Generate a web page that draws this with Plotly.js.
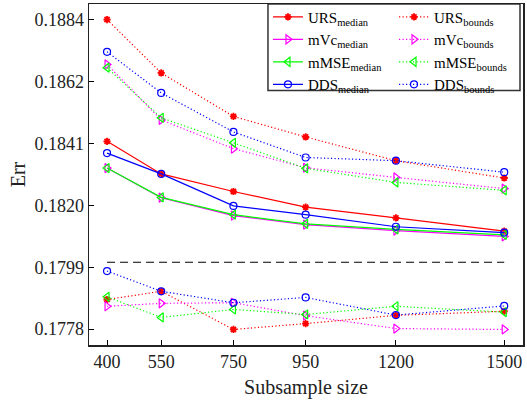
<!DOCTYPE html>
<html>
<head>
<meta charset="utf-8">
<script src="https://cdn.plot.ly/plotly-3.0.1.min.js"></script>
<style>html,body{margin:0;padding:0;background:#fff;}#chart{width:527px;height:400px;}</style>
</head>
<body>
<div id="chart"></div>
<script>
// Data
var subsampleSize = [400, 550, 750, 950, 1200, 1500];

var ursMedian  = [0.18420, 0.18309, 0.18249, 0.18196, 0.18159, 0.18114];
var ursUpper   = [0.18835, 0.18653, 0.18505, 0.18435, 0.18354, 0.18295];
var ursLower   = [0.17881, 0.17909, 0.17779, 0.17799, 0.17827, 0.17841];

var mvcMedian  = [0.18329, 0.18228, 0.18167, 0.18136, 0.18116, 0.18096];
var mvcUpper   = [0.18682, 0.18493, 0.18395, 0.18330, 0.18297, 0.18259];
var mvcLower   = [0.17858, 0.17868, 0.17870, 0.17826, 0.17782, 0.17779];

var mmseMedian = [0.18329, 0.18229, 0.18170, 0.18139, 0.18120, 0.18101];
var mmseUpper  = [0.18671, 0.18500, 0.18415, 0.18328, 0.18280, 0.18253];
var mmseLower  = [0.17890, 0.17820, 0.17847, 0.17830, 0.17858, 0.17838];

var ddsMedian  = [0.18380, 0.18309, 0.18200, 0.18170, 0.18129, 0.18109];
var ddsUpper   = [0.18725, 0.18585, 0.18452, 0.18365, 0.18354, 0.18315];
var ddsLower   = [0.17978, 0.17909, 0.17870, 0.17888, 0.17828, 0.17859];

var refX = [400, 1500];
var refY = [0.18008, 0.18008];

var yTickVals = [0.17780, 0.17991, 0.18202, 0.18413, 0.18624, 0.18835];
var yTickText = ['0.1778', '0.1799', '0.1820', '0.1841', '0.1862', '0.1884'];
var xTickVals = [400, 550, 750, 950, 1200, 1500];

var methods = [
  {name: 'URS',  color: '#ff0000', symbol: 'asterisk-open',       size: 6, lw: 1.8, med: ursMedian,  up: ursUpper,  lo: ursLower},
  {name: 'mVc',  color: '#ff00ff', symbol: 'triangle-right-open', size: 8, lw: 1.2, med: mvcMedian,  up: mvcUpper,  lo: mvcLower},
  {name: 'mMSE', color: '#00ff00', symbol: 'triangle-left-open',  size: 8, lw: 1.2, med: mmseMedian, up: mmseUpper, lo: mmseLower},
  {name: 'DDS',  color: '#0000ff', symbol: 'circle-open',         size: 7, lw: 1.2, med: ddsMedian,  up: ddsUpper,  lo: ddsLower}
];

var traces = [];
traces.push({
  x: refX, y: refY, mode: 'lines', showlegend: false, hoverinfo: 'skip',
  line: {color: '#000', width: 1.2, dash: '8px,5px'}
});
methods.forEach(function (m) {
  var mk = {symbol: m.symbol, size: m.size, color: m.color, line: {color: m.color, width: m.lw}};
  traces.push({
    x: subsampleSize, y: m.up, mode: 'lines+markers', name: m.name + '<sub>bounds</sub>',
    legend: 'legend2', legendgroup: m.name + 'b',
    line: {color: m.color, width: 1.2, dash: '1.2px,2.3px'}, marker: mk
  });
  traces.push({
    x: subsampleSize, y: m.lo, mode: 'lines+markers', name: m.name + '<sub>bounds</sub>',
    legend: 'legend2', legendgroup: m.name + 'b', showlegend: false,
    line: {color: m.color, width: 1.2, dash: '1.2px,2.3px'}, marker: mk
  });
});
methods.forEach(function (m) {
  var mk = {symbol: m.symbol, size: m.size, color: m.color, line: {color: m.color, width: m.lw}};
  traces.push({
    x: subsampleSize, y: m.med, mode: 'lines+markers', name: m.name + '<sub>median</sub>',
    legend: 'legend',
    line: {color: m.color, width: 1.2}, marker: mk
  });
});

var serif = 'Liberation Serif, Times New Roman, serif';
var legendFont = {family: serif, size: 15, color: '#000'};

var layout = {
  width: 527, height: 400,
  margin: {l: 89, r: 4, t: 1, b: 55, pad: 0},
  paper_bgcolor: '#fff', plot_bgcolor: '#fff',
  font: {family: serif, color: '#222'},
  xaxis: {
    range: [350, 1552], tickvals: xTickVals, ticks: 'inside', ticklen: 5, tickwidth: 1,
    tickcolor: '#000', showgrid: false, zeroline: false,
    showline: true, linecolor: '#222', linewidth: 1.5, mirror: true,
    tickfont: {family: serif, size: 18, color: '#222'},
    title: {text: 'Subsample size', font: {family: serif, size: 20, color: '#222'}, standoff: 9}
  },
  yaxis: {
    range: [0.17726, 0.18888], tickvals: yTickVals, ticktext: yTickText, ticks: 'inside', ticklen: 5,
    tickwidth: 1, tickcolor: '#000', showgrid: false, zeroline: false,
    showline: true, linecolor: '#222', linewidth: 1.5, mirror: true,
    tickfont: {family: serif, size: 18, color: '#222'},
    title: {text: 'Err', font: {family: serif, size: 20, color: '#222'}, standoff: 3}
  },
  legend: {
    x: 0.4124, xanchor: 'left', y: 1.01, yanchor: 'top',
    bgcolor: 'rgba(255,255,255,0)', borderwidth: 0, font: legendFont, tracegroupgap: 0
  },
  legend2: {
    x: 0.7028, xanchor: 'left', y: 1.01, yanchor: 'top',
    bgcolor: 'rgba(255,255,255,0)', borderwidth: 0, font: legendFont, tracegroupgap: 0
  },
  shapes: [{
    type: 'rect', xref: 'paper', yref: 'paper', x0: 0.4124, x1: 0.9931, y0: 0.7462, y1: 1,
    line: {color: '#333', width: 1.5}, fillcolor: '#fff', layer: 'below'
  }],
  showlegend: true
};

Plotly.newPlot('chart', traces, layout, {staticPlot: true, displayModeBar: false});
</script>
</body>
</html>
